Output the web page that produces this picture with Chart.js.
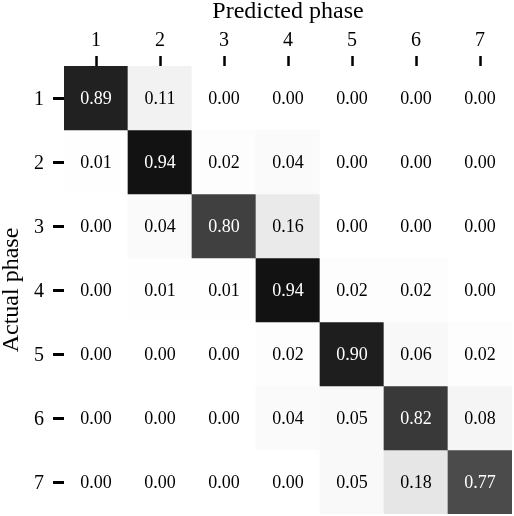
<!DOCTYPE html>
<html>
<head>
<meta charset="utf-8">
<script src="https://cdn.jsdelivr.net/npm/chart.js@4/dist/chart.umd.min.js"></script>
<style>
  html, body { margin: 0; padding: 0; background: #fff; }
  #wrap { width: 514px; height: 516px; }
</style>
</head>
<body>
<div id="wrap"><canvas id="cm" width="514" height="516"></canvas></div>
<script>
// confusion matrix data (rows = actual phase, cols = predicted phase)
const predictedLabels = ['1', '2', '3', '4', '5', '6', '7'];
const actualLabels = ['1', '2', '3', '4', '5', '6', '7'];
const row1 = [0.89, 0.11, 0.00, 0.00, 0.00, 0.00, 0.00];
const row2 = [0.01, 0.94, 0.02, 0.04, 0.00, 0.00, 0.00];
const row3 = [0.00, 0.04, 0.80, 0.16, 0.00, 0.00, 0.00];
const row4 = [0.00, 0.01, 0.01, 0.94, 0.02, 0.02, 0.00];
const row5 = [0.00, 0.00, 0.00, 0.02, 0.90, 0.06, 0.02];
const row6 = [0.00, 0.00, 0.00, 0.04, 0.05, 0.82, 0.08];
const row7 = [0.00, 0.00, 0.00, 0.00, 0.05, 0.18, 0.77];
const rows = [row1, row2, row3, row4, row5, row6, row7];

const FONT = '"Liberation Serif", "Times New Roman", serif';

// matplotlib "Greys" colormap stops
const greyStops = [255, 240, 217, 189, 150, 115, 82, 37, 0];
function greys(v) {
    const t = Math.max(0, Math.min(1, v)) * (greyStops.length - 1);
    const i = Math.min(Math.floor(t), greyStops.length - 2);
    const f = t - i;
    const g = Math.round(greyStops[i] + (greyStops[i + 1] - greyStops[i]) * f);
    return `rgb(${g},${g},${g})`;
}

const datasets = rows.map((vals, r) => ({
    label: 'actual ' + actualLabels[r],
    data: vals.map(() => [r + 0.5, r + 1.5]),
    backgroundColor: vals.map(v => greys(v)),
    borderWidth: 0,
    grouped: false,
    barPercentage: 1,
    categoryPercentage: 1
}));

// write the numbers in each cell
const cellText = {
    id: 'cellText',
    afterDatasetsDraw(chart) {
        const ctx = chart.ctx;
        const xs = chart.scales.x, ys = chart.scales.y;
        ctx.save();
        ctx.font = '18px ' + FONT;
        ctx.textAlign = 'center';
        ctx.textBaseline = 'middle';
        rows.forEach((vals, r) => {
            vals.forEach((v, c) => {
                ctx.fillStyle = v > 0.5 ? '#fff' : '#000';
                ctx.fillText(v.toFixed(2), xs.getPixelForValue(c), ys.getPixelForValue(r + 1) + 1);
            });
        });
        ctx.restore();
    }
};

new Chart(document.getElementById('cm'), {
    type: 'bar',
    data: { labels: predictedLabels, datasets: datasets },
    options: {
        responsive: false,
        animation: false,
        devicePixelRatio: 1,
        layout: { padding: { right: 2, bottom: 2, top: 0, left: 0 } },
        plugins: { legend: { display: false }, tooltip: { enabled: false } },
        scales: {
            x: {
                position: 'top',
                afterFit: s => { s.height = 66; s.paddingLeft = 0; s.paddingRight = 0; },
                grid: { offset: false, drawOnChartArea: false, tickLength: 10, tickWidth: 2.5, tickColor: '#000' },
                border: { display: false },
                ticks: { color: '#000', padding: 3, font: { family: FONT, size: 20 } },
                title: { display: true, text: 'Predicted phase', color: '#000', padding: 0,
                         font: { family: FONT, size: 24, lineHeight: 1 } }
            },
            y: {
                type: 'linear',
                min: 0.5,
                max: 7.5,
                reverse: true,
                afterFit: s => { s.width = 64; s.paddingTop = 0; s.paddingBottom = 0; },
                afterBuildTicks: s => { s.ticks = actualLabels.map((l, i) => ({ value: i + 1 })); },
                grid: { drawOnChartArea: false, tickLength: 11, tickWidth: 3, tickColor: '#000' },
                border: { display: false },
                ticks: { color: '#000', padding: 9, labelOffset: 2, font: { family: FONT, size: 20, lineHeight: 1 },
                         callback: v => actualLabels[v - 1] },
                title: { display: true, text: 'Actual phase', color: '#000', padding: 0,
                         font: { family: FONT, size: 24, lineHeight: 1 } }
            }
        }
    },
    plugins: [cellText]
});
</script>
</body>
</html>
